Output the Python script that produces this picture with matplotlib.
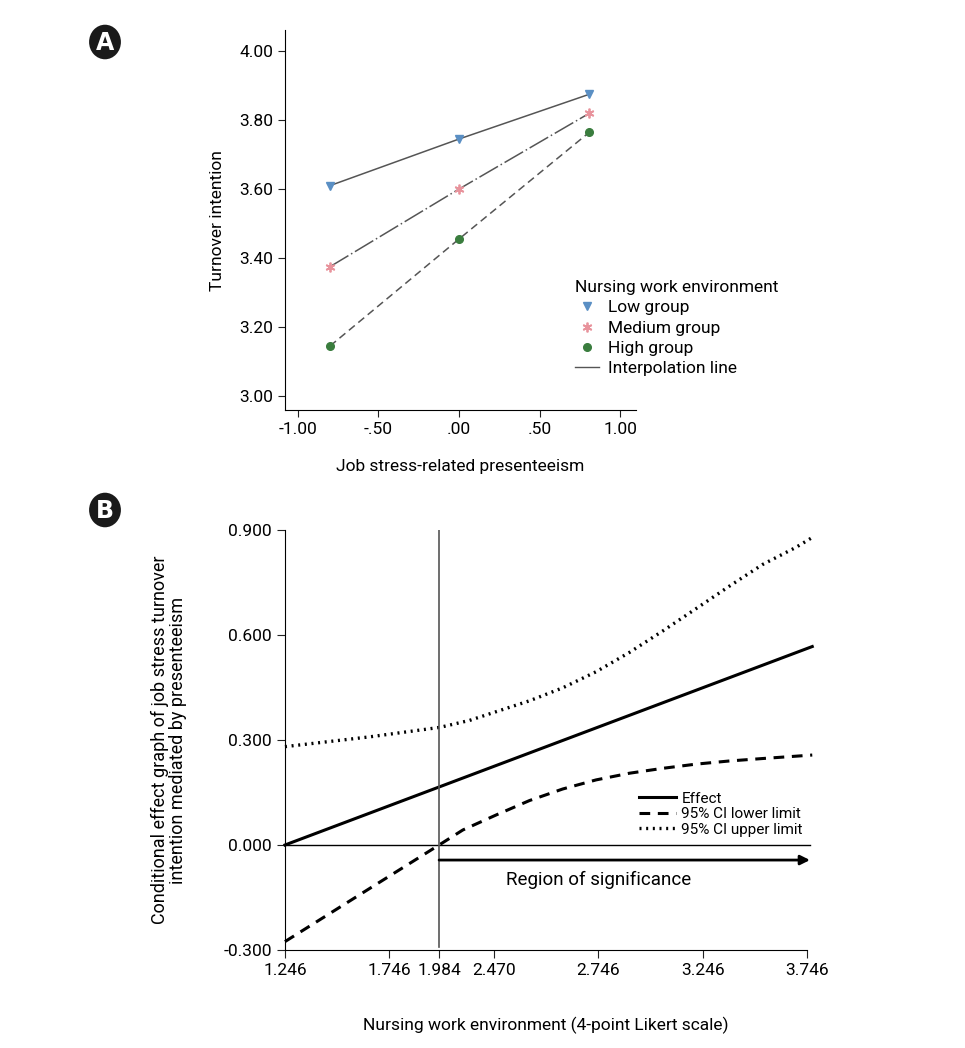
import matplotlib
matplotlib.use("Agg")
import matplotlib.pyplot as plt
from matplotlib.lines import Line2D
from matplotlib.patches import Circle

plt.rcParams['font.family'] = ['Roboto', 'DejaVu Sans']

# ---- panel A data
stress_x = [-0.80, 0.00, 0.81]
low_grp = [3.61, 3.745, 3.875]
med_grp = [3.375, 3.60, 3.82]
high_grp = [3.145, 3.455, 3.765]
a_yticks = [3.00, 3.20, 3.40, 3.60, 3.80, 4.00]
a_ylabels = ["3.00", "3.20", "3.40", "3.60", "3.80", "4.00"]
a_xticks = [-1.0, -0.5, 0.0, 0.5, 1.0]
a_xlabels = ["-1.00", "-.50", ".00", ".50", "1.00"]

# ---- panel B data
upper_x = [1.246, 1.652, 1.987, 2.130, 2.258, 2.417, 2.576, 2.736, 2.895, 3.054, 3.214, 3.373, 3.532, 3.692, 3.764]
upper_ci = [0.281, 0.309, 0.336, 0.356, 0.381, 0.412, 0.449, 0.495, 0.550, 0.611, 0.675, 0.739, 0.801, 0.850, 0.876]
lower_x = [1.246, 1.652, 1.984, 2.098, 2.258, 2.417, 2.576, 2.736, 2.895, 3.054, 3.214, 3.373, 3.532, 3.771]
lower_ci = [-0.276, -0.124, 0.000, 0.043, 0.086, 0.127, 0.160, 0.186, 0.205, 0.219, 0.231, 0.240, 0.247, 0.257]
effect_x = [1.246, 3.771]
effect_y = [0.0, 0.567]
b_xticks = [1.246, 1.746, 1.984, 2.246, 2.746, 3.246, 3.746]
b_xlabels = ["1.246", "1.746", "1.984", "2.470", "2.746", "3.246", "3.746"]
b_yticks = [-0.3, 0.0, 0.3, 0.6, 0.9]
b_ylabels = ["-0.300", "0.000", "0.300", "0.600", "0.900"]
sig_x = 1.984

fig = plt.figure(figsize=(9.65, 10.48), dpi=100)
FS = 12.5

# ================= A
ax = fig.add_axes([0.2953, 0.609, 0.364, 0.362])
gray = "#555555"
ax.plot(stress_x, low_grp, color=gray, lw=1.1, ls="-")
ax.plot(stress_x, med_grp, color=gray, lw=1.1, ls=(0, (14, 2, 1, 2)))
ax.plot(stress_x, high_grp, color=gray, lw=1.1, ls=(0, (5, 3)))
ax.plot(stress_x, low_grp, ls="none", marker="v", color="#5a8fc4", ms=6)
ax.plot(stress_x, med_grp, ls="none", marker=(6, 2, 0), color="#e8939c", ms=7, mew=1.3)
ax.plot(stress_x, high_grp, ls="none", marker="o", color="#3a7d3e", ms=5.5)
ax.set_xlim(-1.08, 1.10)
ax.set_ylim(2.96, 4.06)
ax.set_yticks(a_yticks)
ax.set_yticklabels(a_ylabels)
ax.set_xticks(a_xticks)
ax.set_xticklabels(a_xlabels)
for s in ["top", "right"]:
    ax.spines[s].set_visible(False)
ax.tick_params(labelsize=FS, length=5, color="#222222")
ax.set_ylabel("Turnover intention", fontsize=FS, labelpad=10)
ax.set_xlabel("Job stress-related presenteeism", fontsize=FS, labelpad=16)

hands = [Line2D([], [], ls="none", marker="v", color="#5a8fc4", ms=6),
         Line2D([], [], ls="none", marker=(6, 2, 0), color="#e8939c", ms=7, mew=1.3),
         Line2D([], [], ls="none", marker="o", color="#3a7d3e", ms=5.5),
         Line2D([], [], color=gray, lw=1)]
ax.legend(hands, ["Low group", "Medium group", "High group", "Interpolation line"],
          title="Nursing work environment", loc="upper left",
          bbox_to_anchor=(0.8, 0.365), frameon=False, fontsize=FS,
          title_fontsize=FS, handlelength=1.4, handletextpad=0.5,
          labelspacing=0.3, alignment="left", borderpad=0)

# ================= B
bx = fig.add_axes([0.2953, 0.0935, 0.541, 0.4008])
bx.plot(effect_x, effect_y, color="black", lw=2.2, clip_on=False)
bx.plot(lower_x, lower_ci, color="black", lw=2.2, ls=(0, (3.5, 2.5)), clip_on=False)
bx.plot(upper_x, upper_ci, color="black", lw=2.4, ls=(0, (0.6, 1.4)), clip_on=False)
bx.plot([1.246, 3.76], [0, 0], color="black", lw=1.0, clip_on=False)
bx.plot([sig_x, sig_x], [-0.29, 0.9], color="#555555", lw=1.2)
bx.annotate("", xy=(3.76, -0.043), xytext=(sig_x, -0.043),
            arrowprops=dict(arrowstyle="-|>", color="black", lw=2.0, mutation_scale=14,
                            shrinkA=0, shrinkB=0), annotation_clip=False)
bx.text(2.75, -0.10, "Region of significance", fontsize=13.5, ha="center", va="center")
bx.set_xlim(1.246, 3.746)
bx.set_ylim(-0.3, 0.9)
bx.set_xticks(b_xticks)
bx.set_xticklabels(b_xlabels)
bx.set_yticks(b_yticks)
bx.set_yticklabels(b_ylabels)
for s in ["top", "right"]:
    bx.spines[s].set_visible(False)
bx.tick_params(labelsize=FS, length=6, color="#222222")
bx.set_ylabel("Conditional effect graph of job stress turnover\nintention mediated by presenteeism",
              fontsize=13, labelpad=26, linespacing=1.0)
bx.set_xlabel("Nursing work environment (4-point Likert scale)", fontsize=FS, labelpad=28)

bh = [Line2D([], [], color="black", lw=2.2),
      Line2D([], [], color="black", lw=2.2, ls=(0, (3.5, 2.5))),
      Line2D([], [], color="black", lw=2.4, ls=(0, (0.6, 1.4)))]
bx.legend(bh, ["Effect", "95% CI lower limit", "95% CI upper limit"], loc="upper left",
          bbox_to_anchor=(0.664, 0.395), frameon=False, fontsize=11, handlelength=2.4,
          handletextpad=0.35, labelspacing=0.1, borderpad=0)

# panel badges
for lab, (cx, cy) in [("A", (105, 42)), ("B", (105, 510))]:
    fx, fy = cx / 965, 1 - cy / 1048
    fig.patches.append(Circle((fx, fy), 0.0165, transform=fig.transFigure,
                              facecolor="#1a1a1a", edgecolor="none"))
    fig.text(fx, fy - 0.001, lab, color="white", fontsize=17, fontweight="bold",
             ha="center", va="center", family="DejaVu Sans")

fig.savefig("out.png", dpi=100)
